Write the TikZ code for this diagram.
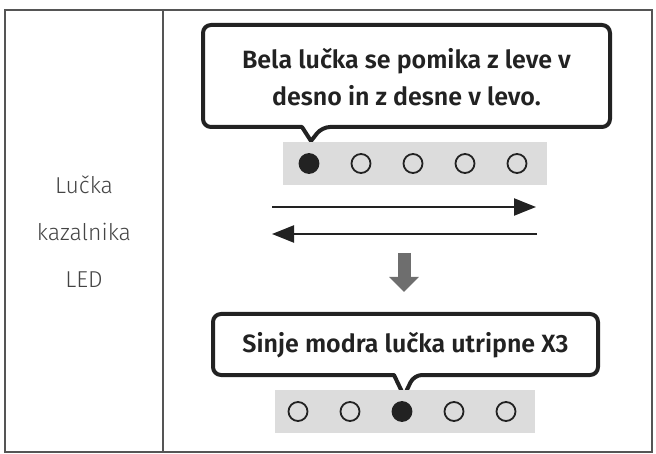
\documentclass[tikz,border=0pt]{standalone}
\usepackage{fontspec}
\setmainfont{Fira Sans}[BoldFont={Fira Sans SemiBold}]
\newfontfamily\lightfont{Fira Sans Light}
\usetikzlibrary{arrows.meta,positioning}
\definecolor{ink}{HTML}{222222}
\definecolor{bargray}{HTML}{DCDCDC}
\definecolor{dropgray}{HTML}{6E6E6E}
\definecolor{labelgray}{HTML}{444444}
\definecolor{rulegray}{HTML}{555555}

\begin{document}
\begin{tikzpicture}[x=1pt,y=-1pt,node distance=52pt]
\tikzstyle{bubble}=[inner sep=0pt,font=\fontsize{25}{37}\selectfont\bfseries,text=ink,align=center]
\tikzstyle{outline}=[line width=4pt,draw=ink,fill=white,line join=round]
\tikzstyle{bar}=[fill=bargray,minimum height=43pt,inner sep=0pt]
\tikzstyle{led}=[circle,draw=ink,line width=1.8pt,minimum size=19pt,inner sep=0pt]
\tikzstyle{on}=[fill=ink]
\tikzstyle{sweep}=[-{Triangle[length=22pt,width=17pt]},line width=2.3pt,draw=ink]

\useasboundingbox (0,0) rectangle (656,454);

% table
\draw[rulegray,line width=1.3pt] (5,10) rectangle (652,452);
\draw[rulegray,line width=1.3pt] (163,10) -- (163,452);
\node[font=\lightfont\fontsize{23}{47}\selectfont,text=labelgray,align=center] (lbl) at (84,232) {Lučka\\kazalnika\\LED};

% first state
\draw[outline] (302,127) [rounded corners=8pt] -- (203,127) -- (203,25) -- (610,25) -- (610,127) -- (322,127) [sharp corners] -- (311,141) -- cycle;
\node[bubble,minimum width=407pt,minimum height=102pt] (msgA) at (406.5,77) {Bela lučka se pomika z leve v\\desno in z desne v levo.};

\node[bar,minimum width=264pt] (barA) at (415,163.5) {};
\node[led,on] (a1) at (309,163.5) {};
\node[led] (a2) [right of = a1] {};
\node[led] (a3) [right of = a2] {};
\node[led] (a4) [right of = a3] {};
\node[led] (a5) [right of = a4] {};

\coordinate (goL) at (272,207);
\coordinate (goR) at (536,207);
\coordinate (backR) at (537,234);
\coordinate (backL) at (272,234);
\draw[sweep] (goL) -- (goR);
\draw[sweep] (backR) -- (backL);

\coordinate (dropA) at (404,253);
\coordinate (dropB) at (404,292);
\draw[-{Triangle[length=15pt,width=29pt]},line width=13pt,draw=dropgray] (dropA) -- (dropB);

% second state
\draw[outline] (394,375) [rounded corners=8pt] -- (213,375) -- (213,314) -- (598,314) -- (598,375) -- (414,375) [sharp corners] -- (404,396) -- cycle;
\node[bubble,minimum width=385pt,minimum height=61pt] (msgB) at (405.5,345) {Sinje modra lučka utripne X3};

\node[bar,minimum width=260pt] (barB) at (405,411.5) {};
\node[led] (b1) at (298,411.5) {};
\node[led] (b2) [right of = b1] {};
\node[led,on] (b3) [right of = b2] {};
\node[led] (b4) [right of = b3] {};
\node[led] (b5) [right of = b4] {};
\end{tikzpicture}
\end{document}
